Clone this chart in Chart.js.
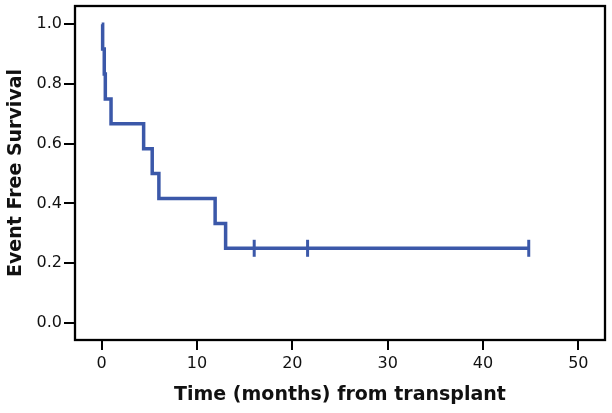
<!DOCTYPE html>
<html>
<head>
<meta charset="utf-8">
<script src="https://cdn.jsdelivr.net/npm/chart.js@4"></script>
<style>
  html, body { margin: 0; padding: 0; background: #fff; }
  #wrap { width: 612px; height: 413px; }
</style>
</head>
<body>
<div id="wrap"><canvas id="km" width="612" height="413"></canvas></div>
<script>
// Kaplan-Meier steps (time in months, survival after each event)
const eventTimes = [0, 0.1, 0.27, 0.38, 0.98, 4.4, 5.3, 6.0, 11.9, 13.0, 44.8];
const survival   = [1.0, 0.917, 0.833, 0.75, 0.667, 0.583, 0.5, 0.417, 0.333, 0.25, 0.25];

// censored observations
const censorTimes = [16.0, 21.6, 44.8];
const censorSurv  = [0.25, 0.25, 0.25];

const xTicks = [0, 10, 20, 30, 40, 50];
const yTicks = [0.0, 0.2, 0.4, 0.6, 0.8, 1.0];

const BLUE = '#3b58a9';
const tickFont = { family: 'DejaVu Sans', size: 16 };
const titleFont = { family: 'DejaVu Sans', size: 19, weight: 'bold' };

const PLOT_TOP = 6;
const PLOT_RIGHT = 605;

// tick labels reserve room at the top/right edge; give it back to the plot
const fixArea = {
  id: 'fixArea',
  afterLayout(chart) {
    const a = chart.chartArea;
    a.top = PLOT_TOP;
    a.right = PLOT_RIGHT;
    a.width = a.right - a.left;
    a.height = a.bottom - a.top;
    const { x, y } = chart.scales;
    y.top = PLOT_TOP;
    y.height = y.bottom - y.top;
    y.configure();
    x.right = PLOT_RIGHT;
    x.width = x.right - x.left;
    x.configure();
  }
};

// black box round the plot area
const frame = {
  id: 'frame',
  afterDraw(chart) {
    const { ctx, chartArea: a } = chart;
    ctx.save();
    ctx.strokeStyle = '#000';
    ctx.lineWidth = 2.3;
    ctx.strokeRect(a.left, a.top, a.right - a.left, a.bottom - a.top);
    ctx.restore();
  }
};

new Chart(document.getElementById('km'), {
  type: 'line',
  data: {
    datasets: [
      {
        data: eventTimes.map((t, i) => ({ x: t, y: survival[i] })),
        stepped: 'before',
        borderColor: BLUE,
        borderWidth: 3.5,
        pointRadius: 0,
        fill: false
      },
      {
        type: 'scatter',
        data: censorTimes.map((t, i) => ({ x: t, y: censorSurv[i] })),
        pointStyle: 'line',
        rotation: 90,
        pointRadius: 8.5,
        borderColor: BLUE,
        backgroundColor: BLUE,
        borderWidth: 3,
        showLine: false
      }
    ]
  },
  options: {
    responsive: false,
    animation: false,
    layout: { padding: { left: 0, top: 6, right: 7, bottom: 0 } },
    plugins: { legend: { display: false }, tooltip: { enabled: false } },
    scales: {
      x: {
        type: 'linear',
        min: -2.8,
        max: 52.8,
        afterBuildTicks: s => { s.ticks = xTicks.map(v => ({ value: v })); },
        afterFit: s => { s.height = 73; },
        border: { display: false },
        grid: { drawOnChartArea: false, drawTicks: true, tickLength: 10, color: '#000', lineWidth: 2 },
        ticks: { font: tickFont, color: '#111', padding: 4, maxRotation: 0 },
        title: { display: true, text: 'Time (months) from transplant', font: titleFont, color: '#111', padding: { top: 0, bottom: 7 } }
      },
      y: {
        type: 'linear',
        min: -0.057,
        max: 1.061,
        afterBuildTicks: s => { s.ticks = yTicks.map(v => ({ value: v })); },
        afterFit: s => { s.width = 75; },
        border: { display: false },
        grid: { drawOnChartArea: false, drawTicks: true, tickLength: 11, color: '#000', lineWidth: 2 },
        ticks: { font: tickFont, color: '#111', padding: 2, callback: v => v.toFixed(1) },
        title: { display: true, text: 'Event Free Survival', font: titleFont, color: '#111', padding: { top: 5, bottom: 0 } }
      }
    }
  },
  plugins: [fixArea, frame]
});
</script>
</body>
</html>
